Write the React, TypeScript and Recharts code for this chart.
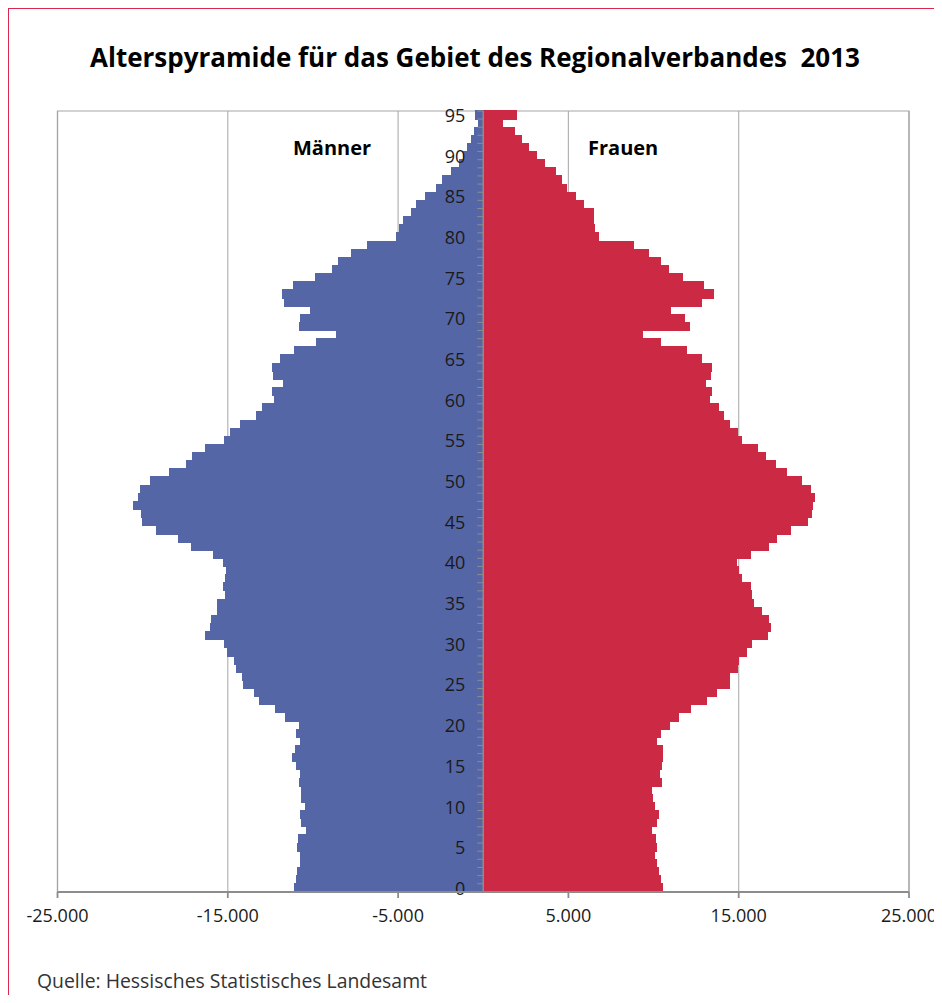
import React from "react";
import {
  BarChart,
  Bar,
  XAxis,
  YAxis,
  CartesianGrid,
  ReferenceLine,
  ReferenceArea,
} from "recharts";

if (typeof document !== "undefined") {
  document.documentElement.style.overflow = "hidden";
}

// Age categories 0..95
const AGES: number[] = [
  0, 1, 2, 3, 4, 5, 6, 7, 8, 9, 10, 11, 12, 13, 14, 15, 16, 17, 18, 19, 20, 21, 22, 23,
  24, 25, 26, 27, 28, 29, 30, 31, 32, 33, 34, 35, 36, 37, 38, 39, 40, 41, 42, 43, 44, 45, 46, 47,
  48, 49, 50, 51, 52, 53, 54, 55, 56, 57, 58, 59, 60, 61, 62, 63, 64, 65, 66, 67, 68, 69, 70, 71,
  72, 73, 74, 75, 76, 77, 78, 79, 80, 81, 82, 83, 84, 85, 86, 87, 88, 89, 90, 91, 92, 93, 94, 95,
];

// Männer (count per age, plotted to the left)
const MAENNER: number[] = [
  11090, 11020, 10940, 10760, 10780, 10940, 10880, 10430, 10720, 10760,
  10490, 10680, 10720, 10840, 10760, 11020, 11210, 11040, 10780, 11020,
  10840, 11640, 12230, 13170, 13480, 14120, 14150, 14500, 14660, 15050,
  15230, 16350, 16070, 16010, 15640, 15640, 15170, 15290, 15170, 15090,
  15290, 15880, 17170, 17950, 19240, 20060, 20120, 20580, 20300, 20180,
  19590, 18480, 17440, 17110, 16320, 15250, 14850, 14270, 13370, 13010,
  12290, 12410, 11760, 12370, 12390, 11960, 11090, 9840, 8630, 10840,
  10780, 10190, 11720, 11820, 11180, 9900, 8900, 8530, 7790, 6800,
  5100, 4950, 4710, 4260, 3930, 3440, 2750, 2400, 1910, 1440,
  1190, 950, 690, 560, 300, 500,
];

// Frauen (count per age, plotted to the right)
const FRAUEN: number[] = [
  10530, 10450, 10300, 10220, 10070, 10180, 10120, 9910, 10200, 10320,
  10110, 9970, 9930, 10510, 10380, 10510, 10550, 10570, 10220, 10420,
  10950, 11480, 12180, 13160, 13720, 14460, 14460, 14950, 14990, 15460,
  15770, 16730, 16910, 16770, 16360, 15890, 15800, 15740, 15170, 15010,
  14880, 15710, 16790, 17260, 18100, 19080, 19330, 19390, 19470, 19260,
  18690, 17850, 17200, 16580, 16130, 15170, 14940, 14510, 14130, 13840,
  13330, 13430, 13060, 13390, 13450, 12820, 11980, 10460, 9380, 12160,
  11820, 11040, 12860, 13530, 12960, 11730, 10890, 10460, 9730, 8830,
  6800, 6550, 6500, 6490, 5900, 5430, 4920, 4630, 4300, 3610,
  3130, 2670, 2300, 1850, 1170, 2010,
];

const AGE_LABELS: number[] = [0, 5, 10, 15, 20, 25, 30, 35, 40, 45, 50, 55, 60, 65, 70, 75, 80, 85, 90, 95];
const X_TICKS: number[] = [-25000, -15000, -5000, 5000, 15000, 25000];

const TITLE = "Alterspyramide für das Gebiet des Regionalverbandes  2013";
const LABEL_M = "Männer";
const LABEL_F = "Frauen";
const SOURCE = "Quelle: Hessisches Statistisches Landesamt";

const data = AGES.map((age, i) => ({
  age,
  maenner: -MAENNER[i],
  frauen: FRAUEN[i],
}));

const BLUE = "#5566a6";
const RED = "#cc2945";
const FONT = "'Open Sans', 'Noto Sans', sans-serif";

const fmt = (v: number) =>
  (v < 0 ? "-" : "") + String(Math.abs(v)).replace(/\B(?=(\d{3})+(?!\d))/g, ".");

// Female bar shape: its base x is the zero line, so the central age axis
// (tick marks + labels) is drawn from it.
const FemaleShape = (props: any) => {
  const { x, y, width, height, payload } = props;
  const age = payload?.age;
  const showLabel = AGE_LABELS.includes(age);
  return (
    <g>
      <rect x={x} y={y - 0.6} width={width} height={height + 1.2} fill={RED} shapeRendering="crispEdges" />
      <line x1={x - 6} x2={x} y1={y + height} y2={y + height} stroke="#8c8c8c" strokeWidth={1} />
      {age === 95 && (
        <line x1={x - 6} x2={x} y1={y} y2={y} stroke="#8c8c8c" strokeWidth={1} />
      )}
      {showLabel && (
        <text
          x={x - 18}
          y={y + height / 2}
          textAnchor="end"
          dominantBaseline="central"
          fontFamily={FONT}
          fontSize={18}
          fill="#1a1a1a"
        >
          {age}
        </text>
      )}
    </g>
  );
};

const MaleShape = (props: any) => {
  const { x, y, width, height } = props;
  const rx = width < 0 ? x + width : x;
  return (
    <rect
      x={rx}
      y={y - 0.6}
      width={Math.abs(width)}
      height={height + 1.2}
      fill={BLUE}
      shapeRendering="crispEdges"
    />
  );
};

export default function App() {
  return (
    <div style={{ position: "relative", width: 934, height: 987, overflow: "hidden", fontFamily: FONT }}>
      <div
        style={{
          position: "absolute",
          left: 0,
          top: 0,
          width: 960,
          height: 1020,
          borderTop: "1.5px solid #d8284f",
          borderLeft: "1.5px solid #d8284f",
          boxSizing: "border-box",
        }}
      />
      <div
        style={{
          position: "absolute",
          left: 0,
          width: 934,
          top: 33,
          textAlign: "center",
          fontSize: 26,
          fontWeight: 700,
          color: "#000",
          whiteSpace: "pre",
          lineHeight: "32px",
        }}
      >
        {TITLE}
      </div>
      <div style={{ position: "absolute", left: 0, top: 0 }}>
        <BarChart
          width={934}
          height={987}
          data={data}
          layout="vertical"
          stackOffset="sign"
          barCategoryGap={0}
          margin={{ top: 103, right: 33, bottom: 73, left: 49.5 }}
        >
          <CartesianGrid horizontal={false} stroke="#b4b4b4" strokeWidth={1.2} />
          <ReferenceArea x1={-25000} x2={25000} fill="none" stroke="#a6a6a6" strokeWidth={1.2} />
          <XAxis
            type="number"
            domain={[-25000, 25000]}
            ticks={X_TICKS}
            tickFormatter={fmt}
            stroke="#8c8c8c"
            strokeWidth={1.8}
            tickSize={6}
            tickMargin={11}
            tick={{ fill: "#1a1a1a", fontSize: 18, fontFamily: FONT }}
            interval={0}
          />
          <YAxis type="category" dataKey="age" reversed hide />
          <Bar dataKey="maenner" stackId="p" fill={BLUE} shape={<MaleShape />} isAnimationActive={false} />
          <Bar dataKey="frauen" stackId="p" fill={RED} shape={<FemaleShape />} isAnimationActive={false} />
          <ReferenceLine x={0} stroke="#8c8c8c" strokeWidth={1.5} />
        </BarChart>
      </div>
      <div style={{ position: "absolute", left: 285, top: 126, fontSize: 20, fontWeight: 700, color: "#000" }}>
        {LABEL_M}
      </div>
      <div style={{ position: "absolute", left: 580, top: 126, fontSize: 20, fontWeight: 700, color: "#000" }}>
        {LABEL_F}
      </div>
      <div style={{ position: "absolute", left: 29, top: 959, fontSize: 19.4, color: "#333" }}>{SOURCE}</div>
    </div>
  );
}
